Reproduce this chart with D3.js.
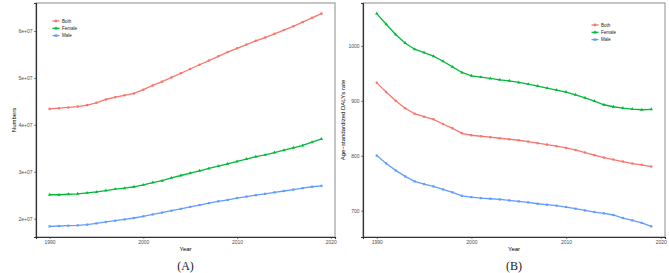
<!DOCTYPE html>
<html>
<head>
<meta charset="utf-8">
<script src="https://cdn.jsdelivr.net/npm/d3@7"></script>
<style>
  body { margin: 0; background: #fff; }
  svg { display: block; font-family: "Liberation Sans", Arial, sans-serif; }
</style>
</head>
<body>
<div id="chart"></div>
<script>
const width = 669, height = 273;

const years = d3.range(1990, 2020);
const groups = ["Both", "Female", "Male"];
const colors = ["#F8766D", "#00BA38", "#619CFF"];

// panel A: numbers (in units of 1e7)
const numBoth = [4.34, 4.355, 4.37, 4.39, 4.42, 4.47, 4.54, 4.59, 4.63, 4.67, 4.75, 4.84, 4.92, 5.01, 5.10, 5.19, 5.28, 5.37, 5.46, 5.55, 5.63, 5.71, 5.79, 5.86, 5.94, 6.02, 6.10, 6.19, 6.28, 6.37];
const numFemale = [2.51, 2.51, 2.52, 2.53, 2.55, 2.57, 2.60, 2.63, 2.65, 2.68, 2.72, 2.77, 2.81, 2.87, 2.92, 2.97, 3.02, 3.07, 3.12, 3.17, 3.22, 3.27, 3.32, 3.36, 3.41, 3.46, 3.51, 3.56, 3.63, 3.70];
const numMale = [1.836, 1.844, 1.85, 1.857, 1.872, 1.90, 1.93, 1.957, 1.985, 2.014, 2.05, 2.09, 2.13, 2.17, 2.21, 2.25, 2.29, 2.33, 2.37, 2.40, 2.44, 2.47, 2.50, 2.53, 2.56, 2.59, 2.62, 2.65, 2.68, 2.70];

// panel B: age-standardized DALYs rate
const rateBoth = [932.8, 916, 900.2, 886.4, 876.6, 871.2, 866.4, 857.9, 850, 841, 837.4, 835.6, 833.8, 831.9, 830.1, 828.3, 825.8, 822.9, 820.3, 817.4, 814.3, 810.7, 805.8, 801.1, 796.7, 793.1, 789.5, 785.8, 783.5, 780.4];
const rateFemale = [1058.8, 1039.4, 1020.7, 1005.4, 994, 988, 981.3, 972.2, 961.9, 951.7, 945.6, 943.2, 940.8, 938.3, 936.5, 933.6, 930.5, 926.9, 923.2, 919.6, 916, 911.1, 905.6, 899.6, 892.9, 889.3, 886.9, 885.1, 883.8, 884.6];
const rateMale = [800.4, 786.1, 773.4, 762.5, 753.4, 748.5, 744.1, 738.8, 733.4, 727.2, 724.8, 723, 721.8, 720.5, 718.7, 716.9, 715.1, 712.7, 710.9, 709.1, 706.7, 703.6, 700.5, 697.6, 695.1, 692.2, 686.7, 682.4, 677.7, 671.5];

const xTicks = [1990, 2000, 2010, 2020];
const numTicks = [2, 3, 4, 5, 6];
const numTickLabels = ["2e+07", "3e+07", "4e+07", "5e+07", "6e+07"];
const rateTicks = [700, 800, 900, 1000];

const svg = d3.select("#chart").append("svg")
    .attr("width", width)
    .attr("height", height);

const symbols = [d3.symbolCircle, d3.symbolTriangle, d3.symbolSquare];

function drawPanel(cfg) {
    const x = d3.scaleLinear()
        .domain([1988.55, 2020.45])
        .range([cfg.left, cfg.right]);

    const all = cfg.series.flat();
    const lo = d3.min(all), hi = d3.max(all), pad = (hi - lo) * 0.05;
    const y = d3.scaleLinear()
        .domain([lo - pad, hi + pad])
        .range([cfg.bottom, cfg.top]);

    const g = svg.append("g");

    // gray panel border
    g.append("rect")
        .attr("x", cfg.left).attr("y", cfg.top)
        .attr("width", cfg.right - cfg.left)
        .attr("height", cfg.bottom - cfg.top)
        .attr("fill", "none")
        .attr("stroke", "#8c8c8c")
        .attr("stroke-width", 1);

    const xAxis = g.append("g")
        .attr("transform", `translate(0,${cfg.bottom})`)
        .call(d3.axisBottom(x).tickValues(xTicks).tickFormat(d3.format("d")).tickSize(2).tickPadding(1.5));
    const yAxis = g.append("g")
        .attr("transform", `translate(${cfg.left},0)`)
        .call(d3.axisLeft(y).tickValues(cfg.yTicks).tickFormat((d, i) => cfg.yLabels[i]).tickSize(2).tickPadding(1.5));

    [xAxis, yAxis].forEach(a => {
        a.select(".domain").attr("stroke", "#333").attr("stroke-width", 1.2);
        a.selectAll(".tick line").attr("stroke", "#333").attr("stroke-width", 0.6);
        a.selectAll(".tick text").attr("fill", "#4d4d4d").style("font-size", "5px");
    });

    cfg.series.forEach((vals, i) => {
        const pts = vals.map((v, j) => [years[j], v]);
        g.append("path")
            .datum(pts)
            .attr("fill", "none")
            .attr("stroke", colors[i])
            .attr("stroke-width", 1.3)
            .attr("d", d3.line().x(d => x(d[0])).y(d => y(d[1])));
        g.selectAll(null)
            .data(pts)
            .join("path")
            .attr("transform", d => `translate(${x(d[0])},${y(d[1])})`)
            .attr("d", d3.symbol().type(symbols[i]).size(5))
            .attr("fill", colors[i]);
    });

    // axis titles
    g.append("text")
        .attr("x", (cfg.left + cfg.right) / 2)
        .attr("y", cfg.bottom + 14)
        .attr("text-anchor", "middle")
        .style("font-size", "6px")
        .text("Year");
    g.append("text")
        .attr("transform", `translate(${cfg.yTitleX},${(cfg.top + cfg.bottom) / 2}) rotate(-90)`)
        .attr("text-anchor", "middle")
        .style("font-size", "6px")
        .text(cfg.yTitle);

    // legend
    groups.forEach((name, i) => {
        const ly = cfg.legendY + i * 7.3;
        g.append("line")
            .attr("x1", cfg.legendX - 3.5).attr("x2", cfg.legendX + 3.5)
            .attr("y1", ly).attr("y2", ly)
            .attr("stroke", colors[i]).attr("stroke-width", 1.3);
        g.append("path")
            .attr("transform", `translate(${cfg.legendX},${ly})`)
            .attr("d", d3.symbol().type(symbols[i]).size(6))
            .attr("fill", colors[i]);
        g.append("text")
            .attr("x", cfg.legendX + 6)
            .attr("y", ly)
            .attr("dy", "0.35em")
            .style("font-size", "4.5px")
            .attr("fill", "#1a1a1a")
            .text(name);
    });

    // panel tag
    svg.append("text")
        .attr("x", (cfg.left + cfg.right) / 2)
        .attr("y", 270)
        .attr("text-anchor", "middle")
        .style("font-family", "'Liberation Serif', 'Times New Roman', serif")
        .style("font-size", "12px")
        .style("font-weight", "normal")
        .attr("fill", "#222")
        .text(cfg.tag);
}

drawPanel({
    left: 36, right: 335, top: 3, bottom: 237,
    series: [numBoth, numFemale, numMale],
    yTicks: numTicks, yLabels: numTickLabels,
    yTitle: "Numbers", yTitleX: 16,
    legendX: 56, legendY: 21,
    tag: "(A)"
});

drawPanel({
    left: 363, right: 665, top: 3, bottom: 237,
    series: [rateBoth, rateFemale, rateMale],
    yTicks: rateTicks, yLabels: rateTicks.map(String),
    yTitle: "Age\u2212standardized DALYs rate", yTitleX: 345,
    legendX: 595, legendY: 25,
    tag: "(B)"
});
</script>
</body>
</html>
